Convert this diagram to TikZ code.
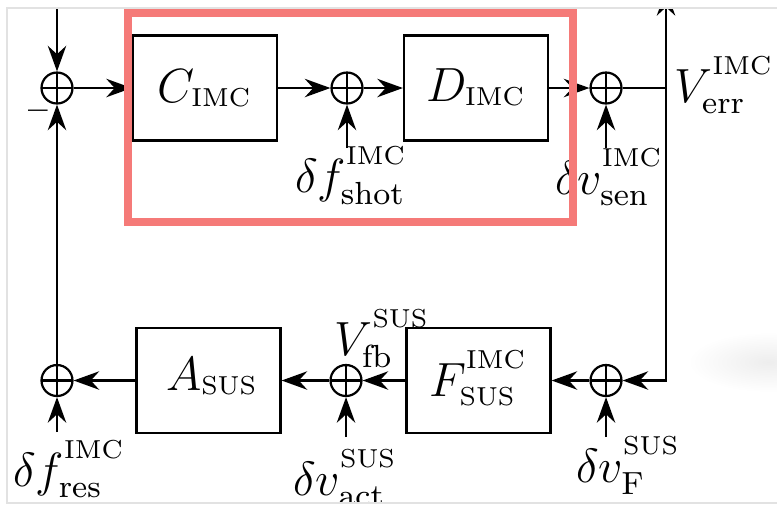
\documentclass[tikz,border=0pt]{standalone}
\usepackage{amsmath}
\usetikzlibrary{arrows.meta}
\definecolor{hl}{RGB}{245,122,120}
\definecolor{framegray}{RGB}{226,226,226}
% small upright tags used as super-/subscripts
\newcommand{\tagup}[1]{\text{\raisebox{2.6pt}{\fontsize{6.5}{7}\selectfont #1}}}
\newcommand{\tagdn}[1]{\text{\raisebox{0.6pt}{\fontsize{6.5}{7}\selectfont #1}}}
\begin{document}
\begin{tikzpicture}[x=0.25pt,y=-0.25pt,
  line width=0.55pt,
  arr/.style={-{Stealth[length=6.4pt,width=4.6pt,inset=2.1pt]}},
  blk/.style={draw, minimum width=36pt, minimum height=26.25pt, inner sep=0pt},
  sumn/.style={draw, circle, minimum size=7.75pt, inner sep=0pt,
    path picture={\draw (path picture bounding box.north) -- (path picture bounding box.south)
                        (path picture bounding box.west) -- (path picture bounding box.east);}},
  lbl/.style={anchor=base, inner sep=0pt, font=\fontsize{12}{14}\selectfont},
  sgn/.style={anchor=base, inner sep=0pt, font=\fontsize{8}{9}\selectfont\bfseries},
]
\useasboundingbox (0,0) rectangle (777,506);
\begin{scope}
\clip (7,8) rectangle (777,503);
\shade[inner color=black!7, outer color=white] (768,362) ellipse [x radius=80, y radius=30];

% blocks and summing junctions
\node[sumn] (s1) at (57,88) {};
\node[blk]  (c)  at (205,88) {};
\node[sumn] (s2) at (347,88) {};
\node[blk]  (d)  at (476,88) {};
\node[sumn] (s3) at (606,88) {};
\node[sumn] (s4) at (606,380.5) {};
\node[blk]  (f)  at (478.5,380.5) {};
\node[sumn] (s5) at (346,380.5) {};
\node[blk]  (a)  at (208.5,380.5) {};
\node[sumn] (s6) at (57,380.5) {};

% block labels
\node[lbl] (tc) at (205,102) {$C_{\tagdn{IMC}}$};
\node[lbl] (td) at (476,101) {$D_{\tagdn{IMC}}$};
\node[lbl] (ta) at (212,390) {$A_{\tagdn{SUS}}$};
\node[lbl] (tf) at (478,396) {$F^{\tagup{IMC}}_{\tagdn{SUS}}$};

% free ends
\coordinate (in)    at (57,0);
\coordinate (br)    at (666,88);
\coordinate (out)   at (666,-10);
\coordinate (pshot) at (347,148);
\coordinate (psen)  at (606,148);
\coordinate (pF)    at (606,437);
\coordinate (pact)  at (346,437);
\coordinate (pres)  at (57,432);

% signal labels
\node[lbl] (lshot) at (351,192) {$\delta f^{\tagup{IMC}}_{\mathrm{shot}}$};
\node[lbl] (lsen)  at (609,194) {$\delta v^{\tagup{IMC}}_{\mathrm{sen}}$};
\node[lbl] (lerr)  at (724,102) {$V^{\tagup{IMC}}_{\mathrm{err}}$};
\node[lbl] (lfb)   at (382,355) {$V^{\tagup{SUS}}_{\mathrm{fb}}$};
\node[lbl] (lres)  at (69,486)  {$\delta f^{\tagup{IMC}}_{\mathrm{res}}$};
\node[lbl] (lact)  at (345,495) {$\delta v^{\tagup{SUS}}_{\mathrm{act}}$};
\node[lbl] (lF)    at (628,482) {$\delta v^{\tagup{SUS}}_{\mathrm{F}}$};
\node[sgn] (minus) at (38,119) {--};

% connectors
\draw[arr] (in) -- (s1);
\draw[arr] (s1) -- (c);
\draw[arr] (c) -- (s2);
\draw[arr] (s2) -- (d);
\draw[arr] (pshot) -- (s2);
\draw[arr] (d) -- (s3);
\draw[arr] (psen) -- (s3);
\draw[arr] (s3) -- (br) -- (out);
\draw[arr] (br) |- (s4);
\draw[arr] (pF) -- (s4);
\draw[arr] (s4) -- (f);
\draw[arr] (f) -- (s5);
\draw[arr] (pact) -- (s5);
\draw[arr] (s5) -- (a);
\draw[arr] (a) -- (s6);
\draw[arr] (pres) -- (s6);
\draw[arr] (s6) -- (s1);

% highlight
\draw[hl, line width=2pt] (128,12.5) rectangle (573,222);
\end{scope}
% screenshot frame
\draw[framegray, line width=0.3pt] (777,8) -- (7,8) -- (7,503) -- (777,503);
\end{tikzpicture}
\end{document}
